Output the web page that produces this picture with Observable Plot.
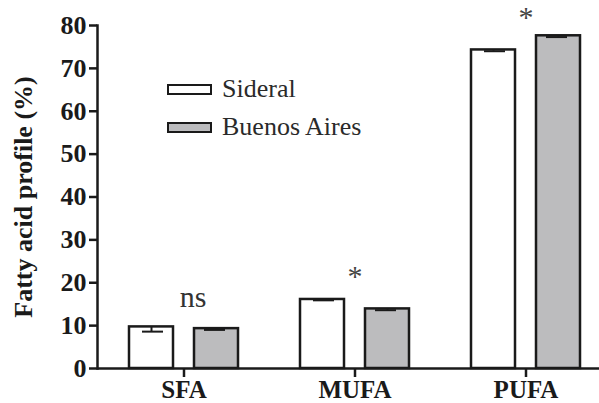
<!DOCTYPE html>
<html>
<head>
<meta charset="utf-8">
<script src="https://cdn.jsdelivr.net/npm/d3@7"></script>
<script src="https://cdn.jsdelivr.net/npm/@observablehq/plot@0.6"></script>
<style>
  html, body { margin: 0; padding: 0; background: #fff; }
  #wrap { position: relative; width: 599px; height: 403px; }
  #legend { position: absolute; left: 167px; top: 70px; font-size: 26px; color: #2a2a2a; }
  .row { display: flex; align-items: center; height: 38px; }
  .sw { width: 41px; height: 7px; border: 2.5px solid #1a1a1a; margin-right: 10px; }
</style>
</head>
<body>
<div id="wrap"><div id="legend" style="font-family: 'Liberation Serif', serif !important;"><div class="row"><div class="sw" id="sw0"></div><span id="lg0" style="font-family: 'Liberation Serif', serif !important;"></span></div><div class="row"><div class="sw" id="sw1"></div><span id="lg1" style="font-family: 'Liberation Serif', serif !important;"></span></div></div></div>
<script>
const categories = ["SFA", "MUFA", "PUFA"];
const seriesNames = ["Sideral", "Buenos Aires"];
const seriesColors = ["#ffffff", "#bcbcbe"];
const sideral = [9.7, 16.1, 74.3];
const buenosAires = [9.3, 13.9, 77.6];
const sideralErr = [1.1, 0.2, 0.3];
const buenosAiresErr = [0.3, 0.3, 0.3];
const annotations = ["ns", "*", "*"];
const annotationY = [16.5, 21.5, 82];
const yTicks = [0, 10, 20, 30, 40, 50, 60, 70, 80];

const sid = categories.map((c, i) => ({cat: c, value: sideral[i], err: sideralErr[i]}));
const ba = categories.map((c, i) => ({cat: c, value: buenosAires[i], err: buenosAiresErr[i]}));
const notes = categories.map((c, i) => ({cat: c, text: annotations[i], y: annotationY[i]}));

const serif = "Liberation Serif";
const ink = "#1a1a1a";
const barStyle = {x: "cat", y: "value", stroke: ink, strokeWidth: 2.5};
const errMarks = (data, left, right, dx) => [
  Plot.ruleX(data, {x: "cat", y1: d => d.value - d.err, y2: "value", stroke: ink, strokeWidth: 2, dx}),
  Plot.tickY(data, {x: "cat", y: d => d.value - d.err, stroke: ink, strokeWidth: 2, insetLeft: left, insetRight: right})
];

const chart = Plot.plot({
  width: 599,
  height: 403,
  marginLeft: 97,
  marginTop: 25,
  marginBottom: 35,
  marginRight: 0,
  style: "background: transparent; overflow: visible; font-family: 'Liberation Serif', serif !important;",
  x: {domain: categories, range: [97.5, 610.5], padding: 0},
  y: {domain: [0, 80], ticks: yTicks},
  marks: [
    Plot.barY(sid, {...barStyle, fill: seriesColors[0], insetLeft: 31, insetRight: 96}),
    Plot.barY(ba, {...barStyle, fill: seriesColors[1], insetLeft: 96, insetRight: 31}),
    ...errMarks(sid, 44, 106, -32.5),
    ...errMarks(ba, 106, 44, 32.5),
    Plot.text(notes.filter(d => d.text === "ns"), {x: "cat", y: "y", text: "text", fontSize: 30, fontFamily: serif, fill: "#333", dx: 9}),
    Plot.text(notes.filter(d => d.text !== "ns"), {x: "cat", y: "y", text: "text", fontSize: 30, fontFamily: serif, fill: "#444"}),
    Plot.ruleY([0], {stroke: ink, strokeWidth: 2.5}),
    Plot.frame({anchor: "left", stroke: ink, strokeWidth: 2.5}),
    Plot.axisY({ticks: yTicks, tickSize: 8, tickPadding: 3, fontSize: 26, fontWeight: "bold", fontFamily: serif, color: ink, strokeWidth: 2.5,
      label: "Fatty acid profile (%)", labelAnchor: "center", labelOffset: 84, labelArrow: "none"}),
    Plot.axisX({tickSize: 9, tickPadding: 3, fontSize: 25, fontWeight: "bold", fontFamily: serif, color: ink, strokeWidth: 2.5, label: null})
  ]
});
d3.select(chart).selectAll("g, text, tspan").each(function() {
  this.style.setProperty("font-family", "'Liberation Serif', serif", "important");
});
document.getElementById("wrap").prepend(chart);

seriesNames.forEach((name, i) => {
  document.getElementById("sw" + i).style.background = seriesColors[i];
  document.getElementById("lg" + i).textContent = name;
});
</script>
</body>
</html>
